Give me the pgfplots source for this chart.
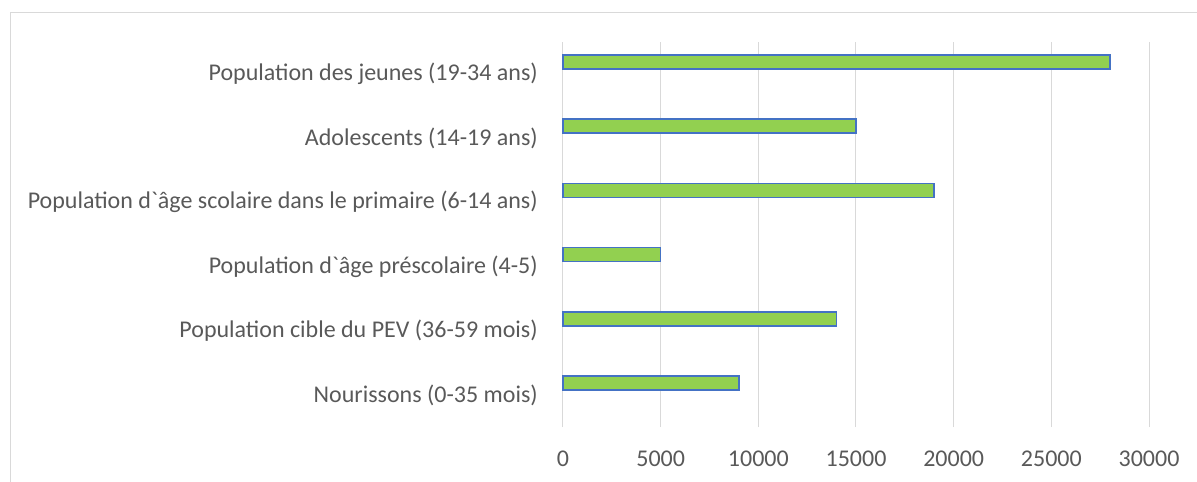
\documentclass[border=0pt]{standalone}
\usepackage{fontspec}
\setmainfont{Carlito}[Ligatures=TeXOff]
\usepackage{pgfplots}
\pgfplotsset{compat=1.18}
\definecolor{gridgray}{HTML}{D9D9D9}
\definecolor{txtgray}{HTML}{595959}
\definecolor{barfill}{HTML}{92D050}
\definecolor{barline}{HTML}{4472C4}
\begin{document}
\begin{tikzpicture}
\path[use as bounding box] (0,0) rectangle (897.75pt,361.5pt);
\draw[gridgray, line width=0.75pt] (7.5pt,-10pt) -- (7.5pt,352.3pt) -- (910pt,352.3pt);
\begin{axis}[
  at={(422.25pt,41.25pt)}, anchor=south west,
  scale only axis,
  width=439.5pt, height=289pt,
  xbar, bar width=10.5pt,
  xmin=0, xmax=30000, ymin=-0.5, ymax=5.5,
  axis line style={draw=none},
  xmajorgrids=true,
  grid style={gridgray, line width=0.75pt},
  xtick={0,5000,10000,15000,20000,25000,30000},
  ytick={0,1,2,3,4,5},
  yticklabels={Nourissons (0-35 mois),Population cible du PEV (36-59 mois),Population d`âge préscolaire (4-5),Population d`âge scolaire dans le primaire (6-14 ans),Adolescents (14-19 ans),Population des jeunes (19-34 ans)},
  major tick length=0pt,
  scaled x ticks=false,
  /pgf/number format/assume math mode=true,
  xticklabel={\pgfmathprintnumber[fixed,1000 sep={}]{\tick}},
  every tick label/.append style={font=\fontsize{18}{21}\selectfont, text=txtgray, inner sep=0pt},
  x tick label style={anchor=north, yshift=-18pt},
  y tick label style={anchor=east, xshift=-18.75pt},
  clip=false,
]
\addplot[fill=barfill, draw=barline, line width=1.1pt] coordinates {
  (9000,0.185) (14000,1.185) (5000,2.185) (19000,3.185) (15000,4.185) (28000,5.185)
};
\end{axis}
\end{tikzpicture}
\end{document}
